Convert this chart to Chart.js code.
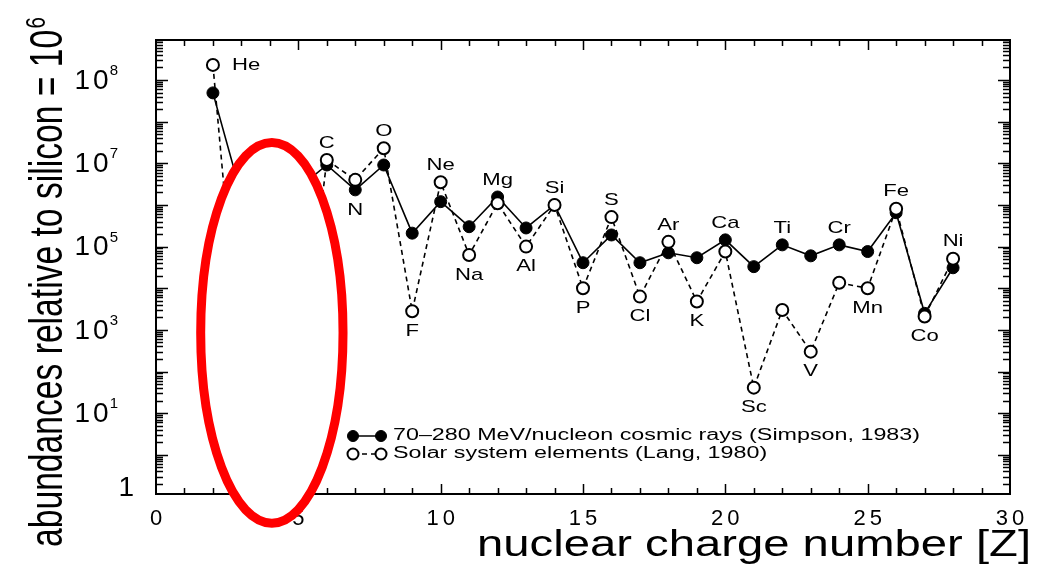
<!DOCTYPE html>
<html>
<head>
<meta charset="utf-8">
<script src="https://cdn.jsdelivr.net/npm/chart.js@4.4.0/dist/chart.umd.min.js"></script>
<style>
html, body { margin: 0; padding: 0; background: #fff; }
#wrap { width: 1041px; height: 564px; }
</style>
</head>
<body>
<div id="wrap"><canvas id="abundChart" width="1041" height="564"></canvas></div>
<script>
// Elementos (Z = 2..28) e abundancias relativas ao silicio = 10^6
const elements = ['He','Li','Be','B','C','N','O','F','Ne','Na','Mg','Al','Si','P','S','Cl','Ar','K','Ca','Sc','Ti','V','Cr','Mn','Fe','Co','Ni'];
const charges = [2,3,4,5,6,7,8,9,10,11,12,13,14,15,16,17,18,19,20,21,22,23,24,25,26,27,28];
const cosmicRays = [4.9e8, 1.7e6, 8.0e5, 2.5e6, 9.1e6, 2.3e6, 9.1e6, 2.1e5, 1.2e6, 3.0e5, 1.55e6, 2.8e5, 1.0e6, 4.1e4, 1.9e5, 4.1e4, 7.1e4, 5.4e4, 1.45e5, 3.3e4, 1.1e5, 6.0e4, 1.1e5, 7.6e4, 6.5e5, 2.5e3, 3.1e4];
const solarSystem = [2.3e9, 57, 0.73, 21, 1.2e7, 4.0e6, 2.3e7, 2.8e3, 3.5e6, 6.3e4, 1.1e6, 1.0e5, 1.0e6, 1.0e4, 5.1e5, 6.3e3, 1.3e5, 4.8e3, 7.6e4, 41, 3.0e3, 3.0e2, 1.35e4, 1.0e4, 8.1e5, 2.1e3, 5.1e4];
// lado do rotulo de cada elemento
const labelSide = ['right',null,null,null,'above','below','above','below','above','below','above','below','above','below','above','below','above','below','above','below','above','below','above','below','above','below','above'];

const xTickValues = [0, 5, 10, 15, 20, 25, 30];
const xTickLabels = ['0', '5', '10', '15', '20', '25', '30'];
const yTickValues = [1e9, 1e7, 1e5, 1e3, 1e1, 0.17];
const yTickBase = ['10', '10', '10', '10', '10', '1'];
const yTickSup = ['8', '7', '5', '3', '1', ''];

const cosmicLabel = '70\u2013280 MeV/nucleon cosmic rays (Simpson, 1983)';
const solarLabel = 'Solar system elements (Lang, 1980)';
const xTitle = 'nuclear charge number [Z]';
const yTitle = 'abundances relative to silicon = 10';
const yTitleSup = '6';

// marca vermelha sobre Li, Be, B (em coordenadas dos dados)
const highlight = { zMin: 1.57, zMax: 6.57, yMin: Math.pow(10, -1.64), yMax: Math.pow(10, 7.5) };

const FONT = "'Liberation Sans', Arial, sans-serif";

function spacedText(c, text, x, y, spacing, align) {
    const chars = [...text];
    const widths = chars.map(ch => c.measureText(ch).width);
    const total = widths.reduce((a, b) => a + b, 0) + spacing * (chars.length - 1);
    let cx = align === 'center' ? x - total / 2 : align === 'right' ? x - total : x;
    c.textAlign = 'left';
    chars.forEach((ch, i) => { c.fillText(ch, cx, y); cx += widths[i] + spacing; });
    return total;
}

// texto esticado na horizontal (como na figura original)
function wideText(c, text, x, y, sx, align) {
    const w = c.measureText(text).width * sx;
    const x0 = align === 'center' ? x - w / 2 : align === 'right' ? x - w : x;
    c.save();
    c.translate(x0, y);
    c.scale(sx, 1);
    c.textAlign = 'left';
    c.fillText(text, 0, 0);
    c.restore();
    return w;
}

// Moldura, marcas e rotulos dos eixos
const axesPlugin = {
    id: 'axesPlugin',
    beforeDatasetsDraw(chart) {
        const c = chart.ctx;
        const { left, right, top, bottom } = chart.chartArea;
        const xs = chart.scales.x, ys = chart.scales.y;
        c.save();
        c.strokeStyle = '#000';
        c.lineWidth = 1.5;
        c.beginPath();
        for (let k = -1; k <= 9; k++) {
            for (let m = 1; m <= 9; m++) {
                const v = m * Math.pow(10, k);
                if (v < ys.min || v > ys.max) continue;
                const py = Math.round(ys.getPixelForValue(v)) + 0.5;
                const len = m === 1 ? 12 : 7;
                c.moveTo(left, py); c.lineTo(left + len, py);
                c.moveTo(right, py); c.lineTo(right - len, py);
            }
        }
        for (let z = 1; z < 30; z++) {
            const px = Math.round(xs.getPixelForValue(z)) + 0.5;
            const len = z % 5 === 0 ? 10 : 6;
            c.moveTo(px, bottom); c.lineTo(px, bottom - len);
            c.moveTo(px, top); c.lineTo(px, top + len);
        }
        c.stroke();
        c.lineWidth = 2;
        c.strokeRect(left, top, right - left, bottom - top);

        c.fillStyle = '#000';
        c.textBaseline = 'middle';
        c.font = '22px ' + FONT;
        xTickValues.forEach((v, i) => {
            spacedText(c, xTickLabels[i], xs.getPixelForValue(v), 519, 4, 'center');
        });
        yTickValues.forEach((v, i) => {
            const py = ys.getPixelForValue(v);
            if (yTickSup[i]) {
                c.font = '15px ' + FONT;
                const sw = c.measureText(yTickSup[i]).width;
                c.fillText(yTickSup[i], 118 - sw, py - 9);
                c.font = '28px ' + FONT;
                spacedText(c, yTickBase[i], 117 - sw, py + 1, 3, 'right');
            } else {
                c.font = '28px ' + FONT;
                spacedText(c, yTickBase[i], 134, py + 1, 3, 'right');
            }
        });

        // titulo do eixo x
        c.textBaseline = 'alphabetic';
        c.font = '37px ' + FONT;
        wideText(c, xTitle, 477, 556, 554 / c.measureText(xTitle).width, 'left');

        // titulo do eixo y (comprimido)
        c.translate(62, 547);
        c.rotate(-Math.PI / 2);
        c.font = '46px ' + FONT;
        const mainW = c.measureText(yTitle).width;
        c.font = '28px ' + FONT;
        const supW = c.measureText(yTitleSup).width;
        c.scale(530 / (mainW + supW + 2), 1);
        c.font = '46px ' + FONT;
        c.fillText(yTitle, 0, 0);
        c.font = '28px ' + FONT;
        c.fillText(yTitleSup, mainW + 2, -17);
        c.restore();
    }
};

// Rotulos dos elementos e legenda
const labelsPlugin = {
    id: 'labelsPlugin',
    afterDatasetsDraw(chart) {
        const c = chart.ctx;
        const xs = chart.scales.x, ys = chart.scales.y;
        c.save();
        c.fillStyle = '#000';
        c.textBaseline = 'middle';
        c.font = '17px ' + FONT;
        elements.forEach((el, i) => {
            const side = labelSide[i];
            if (!side) return;
            const px = xs.getPixelForValue(charges[i]);
            const yc = ys.getPixelForValue(cosmicRays[i]);
            const yo = ys.getPixelForValue(solarSystem[i]);
            if (side === 'right') wideText(c, el, px + 19, yo, 1.3, 'left');
            else if (side === 'above') wideText(c, el, px, Math.min(yc, yo) - 17, 1.3, 'center');
            else wideText(c, el, px, Math.max(yc, yo) + 20, 1.3, 'center');
        });

        // legenda
        const rows = [
            { ds: chart.data.datasets[0], y: 436 },
            { ds: chart.data.datasets[1], y: 454 }
        ];
        c.font = '16px ' + FONT;
        const sx = 527 / c.measureText(rows[0].ds.label).width;
        rows.forEach(r => {
            c.strokeStyle = '#000';
            c.lineWidth = 1.5;
            c.setLineDash(r.ds.borderDash || []);
            c.beginPath(); c.moveTo(353, r.y); c.lineTo(381, r.y); c.stroke();
            c.setLineDash([]);
            [353, 381].forEach(mx => {
                c.beginPath();
                c.arc(mx, r.y, 5.5, 0, Math.PI * 2);
                c.fillStyle = r.ds.pointBackgroundColor;
                c.fill();
                c.lineWidth = r.ds.pointBorderWidth;
                c.stroke();
            });
            c.fillStyle = '#000';
            wideText(c, r.ds.label, 393, r.y, sx, 'left');
        });
        c.restore();
    }
};

// Elipse vermelha por cima de tudo
const highlightPlugin = {
    id: 'highlightPlugin',
    afterDraw(chart) {
        const c = chart.ctx;
        const xs = chart.scales.x, ys = chart.scales.y;
        const x0 = xs.getPixelForValue(highlight.zMin), x1 = xs.getPixelForValue(highlight.zMax);
        const y0 = ys.getPixelForValue(highlight.yMax), y1 = ys.getPixelForValue(highlight.yMin);
        c.save();
        c.beginPath();
        c.ellipse((x0 + x1) / 2, (y0 + y1) / 2, (x1 - x0) / 2, (y1 - y0) / 2, 0, 0, Math.PI * 2);
        c.fillStyle = '#fff';
        c.fill();
        c.lineWidth = 9;
        c.strokeStyle = '#f00';
        c.stroke();
        c.restore();
    }
};

const ctx = document.getElementById('abundChart').getContext('2d');
const abundChart = new Chart(ctx, {
    type: 'line',
    data: {
        datasets: [{
            label: cosmicLabel,
            data: charges.map((z, i) => ({ x: z, y: cosmicRays[i] })),
            borderColor: '#000',
            borderWidth: 1.6,
            pointRadius: 6,
            pointBackgroundColor: '#000',
            pointBorderColor: '#000',
            pointBorderWidth: 1,
            order: 1
        }, {
            label: solarLabel,
            data: charges.map((z, i) => ({ x: z, y: solarSystem[i] })),
            borderColor: '#000',
            borderWidth: 1.6,
            borderDash: [5, 4],
            pointRadius: 6,
            pointBackgroundColor: '#fff',
            pointBorderColor: '#000',
            pointBorderWidth: 2,
            order: 0
        }]
    },
    options: {
        responsive: false,
        animation: false,
        layout: { padding: { left: 156, right: 31, top: 40, bottom: 70 } },
        scales: {
            x: { type: 'linear', min: 0, max: 30, display: false },
            y: { type: 'logarithmic', min: Math.pow(10, -0.94), max: Math.pow(10, 9.96), display: false }
        },
        plugins: {
            legend: { display: false },
            tooltip: { enabled: false }
        }
    },
    plugins: [axesPlugin, labelsPlugin, highlightPlugin]
});
</script>
</body>
</html>
